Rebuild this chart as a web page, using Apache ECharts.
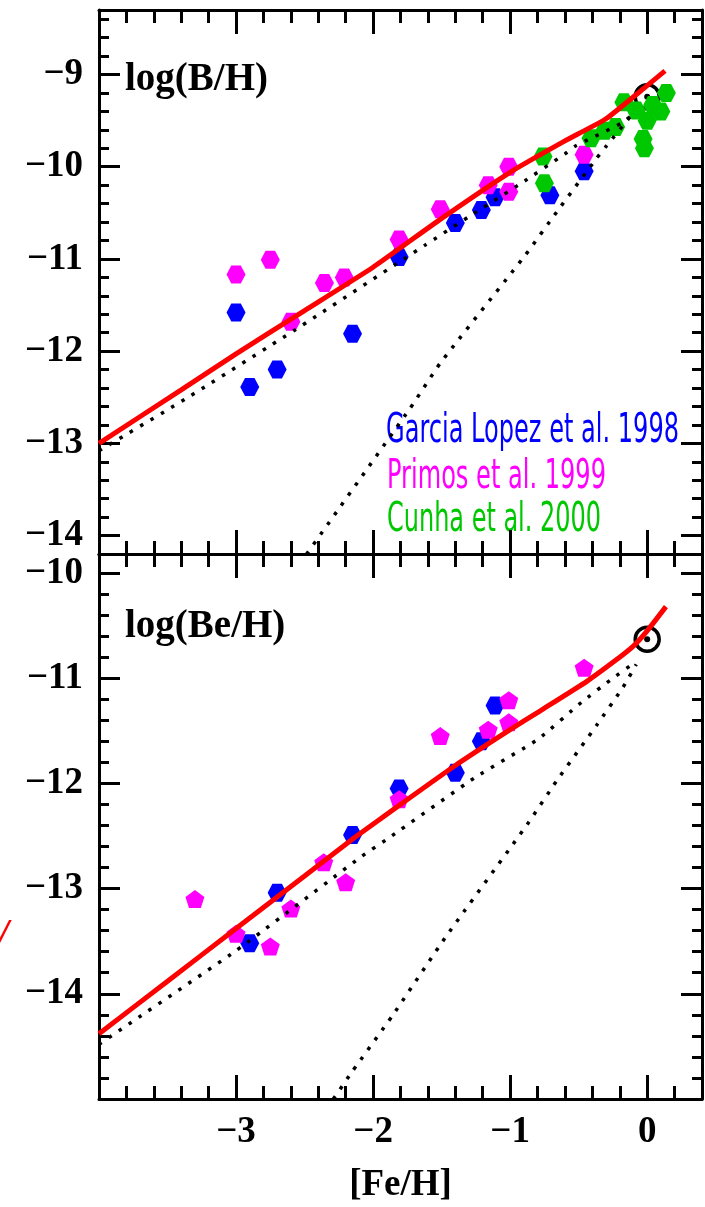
<!DOCTYPE html>
<html>
<head>
<meta charset="utf-8">
<script src="https://cdn.jsdelivr.net/npm/echarts@6/dist/echarts.min.js"></script>
<style>
  html, body { margin: 0; padding: 0; background: #fff; }
  #chart { width: 705px; height: 1207px; }
</style>
</head>
<body>
<div id="chart"></div>
<script>
// ---------- axis ranges and ticks ----------
const feRange = [-4, 0.4];
const bRange = [-14.2, -8.3];
const beRange = [-15, -9.82];
const feMajorTicks = [-4, -3, -2, -1, 0];
const feTickLabels = [-3, -2, -1, 0];
const bMajorTicks = [-14, -13, -12, -11, -10, -9];
const beMajorTicks = [-15, -14, -13, -12, -11, -10];
const beTickLabels = [-14, -13, -12, -11, -10];

// ---------- boron, log(B/H) vs [Fe/H] ----------
const garciaB = [
  [-3.00, -11.58], [-2.90, -12.39], [-2.70, -12.20], [-2.15, -11.81], [-1.81, -10.98],
  [-1.40, -10.61], [-1.21, -10.47], [-1.11, -10.33], [-0.71, -10.31], [-0.46, -10.05]
];
const primasB = [
  [-3.00, -11.17], [-2.75, -11.01], [-2.60, -11.68], [-2.355, -11.26], [-2.21, -11.20],
  [-1.81, -10.79], [-1.51, -10.46], [-1.16, -10.20], [-1.01, -10.00], [-1.01, -10.27],
  [-0.46, -9.87]
];
const cunhaB = [
  [-0.76, -9.89], [-0.75, -10.18], [-0.41, -9.69], [-0.31, -9.61], [-0.23, -9.57],
  [-0.17, -9.30], [-0.08, -9.39], [0.00, -9.50], [0.04, -9.33], [0.10, -9.40],
  [0.14, -9.20], [-0.03, -9.70], [-0.02, -9.80]
];
const modelB = [
  [-4.0, -13.0], [-3.4, -12.42], [-3.0, -12.03], [-2.5, -11.56], [-2.0, -11.09],
  [-1.5, -10.56], [-1.0, -10.06], [-0.6, -9.72], [-0.3, -9.48], [0.0, -9.12], [0.13, -8.96]
];
const dottedB1 = [
  [-4.0, -13.08], [-3.36, -12.51], [-2.57, -11.77], [-1.62, -10.85], [-1.3, -10.54],
  [-0.92, -10.18], [-0.6, -9.86], [-0.53, -9.78], [-0.19, -9.53], [-0.1, -9.43]
];
const dottedB2 = [
  [-2.485, -14.2], [-1.73, -12.62], [-1.51, -12.13], [-0.89, -10.96], [-0.66, -10.49],
  [-0.37, -9.91], [-0.3, -9.78], [-0.12, -9.45]
];
const sunB = [[0.0, -9.24]];

// ---------- beryllium, log(Be/H) vs [Fe/H] ----------
const garciaBe = [
  [-2.90, -13.52], [-2.70, -13.04], [-2.15, -12.49], [-1.81, -12.05], [-1.40, -11.90],
  [-1.21, -11.60], [-1.11, -11.26]
];
const primasBe = [
  [-3.30, -13.10], [-3.00, -13.43], [-2.75, -13.55], [-2.60, -13.19], [-2.36, -12.75],
  [-2.20, -12.94], [-1.81, -12.15], [-1.51, -11.55], [-1.16, -11.49], [-1.01, -11.21],
  [-1.01, -11.42], [-0.46, -10.90]
];
const modelBe = [
  [-4.0, -14.38], [-3.5, -13.88], [-3.0, -13.38], [-2.5, -12.88], [-2.13, -12.51],
  [-1.8, -12.20], [-1.4, -11.83], [-1.0, -11.49], [-0.78, -11.31], [-0.44, -11.03],
  [-0.25, -10.85], [-0.105, -10.70], [0.0, -10.55], [0.137, -10.32]
];
const dottedBe1 = [
  [-4.0, -14.48], [-3.0, -13.59], [-2.09, -12.70], [-1.875, -12.51], [-1.257, -11.945],
  [-0.796, -11.58], [-0.48, -11.23], [-0.25, -11.0], [-0.1, -10.86]
];
const dottedBe2 = [
  [-2.29, -15.0], [-2.153, -14.74], [-1.86, -14.21], [-1.465, -13.45], [-0.875, -12.39],
  [-0.663, -11.98], [-0.37, -11.45], [-0.178, -11.09], [-0.08, -10.87]
];
const sunBe = [[0.0, -10.63]];

// ---------- styling ----------
const FONT_SERIF = '"Liberation Serif", "DejaVu Serif", serif';
const FONT_KEY = '"DejaVu Sans", "Liberation Sans", sans-serif';
const BLUE = '#0000ff', MAGENTA = '#ff00ff', GREEN = '#00c800';
const HEX = 'path://M2,0 L1,1.732 L-1,1.732 L-2,0 L-1,-1.732 L1,-1.732 Z';
const PENT = 'path://M0,-10 L9.5,-3.1 L5.9,8.1 L-5.9,8.1 L-9.5,-3.1 Z';

const minusFmt = v => (v < 0 ? '\u2212' + Math.abs(v) : String(v));
const labelText = { color: '#000', fontFamily: FONT_SERIF, fontWeight: 'bold', fontSize: 37 };

function xAx(grid, pos, labelled) {
  return {
    type: 'value', gridIndex: grid, position: pos,
    min: feRange[0], max: feRange[1],
    axisLine: { show: true, onZero: false, lineStyle: { color: '#000', width: 3 } },
    axisTick: { show: true, inside: true, length: 24, customValues: feMajorTicks,
                lineStyle: { color: '#000', width: 3 } },
    minorTick: { show: true, splitNumber: 5, length: 13, lineStyle: { color: '#000', width: 3 } },
    splitLine: { show: false }, minorSplitLine: { show: false },
    axisLabel: labelled
      ? Object.assign({ show: true, customValues: feTickLabels, formatter: minusFmt, margin: 15 }, labelText)
      : { show: false },
    name: labelled ? '[Fe/H]' : '',
    nameLocation: 'middle', nameGap: 68,
    nameTextStyle: labelText
  };
}

function yAx(grid, pos, range, majors, labels) {
  return {
    type: 'value', gridIndex: grid, position: pos,
    min: range[0], max: range[1],
    axisLine: { show: true, onZero: false, lineStyle: { color: '#000', width: 3 } },
    axisTick: { show: true, inside: true, length: 21, customValues: majors,
                lineStyle: { color: '#000', width: 3 } },
    minorTick: { show: true, splitNumber: 5, length: 10, lineStyle: { color: '#000', width: 3 } },
    splitLine: { show: false }, minorSplitLine: { show: false },
    axisLabel: labels
      ? Object.assign({ show: true, customValues: labels, formatter: minusFmt, margin: 16 }, labelText)
      : { show: false }
  };
}

function points(data, color, symbol, grid) {
  return {
    type: 'scatter', data, xAxisIndex: grid * 2, yAxisIndex: grid * 2,
    symbol, symbolSize: [19, 18], itemStyle: { color, opacity: 1 }, z: 3, silent: true
  };
}
function curve(data, grid, dotted) {
  return {
    type: 'line', data, xAxisIndex: grid * 2, yAxisIndex: grid * 2,
    showSymbol: false, symbol: 'none', smooth: 0.15, clip: true, silent: true,
    lineStyle: dotted
      ? { color: '#000', width: 3.5, type: [3.5, 8.5], cap: 'butt' }
      : { color: '#ff0000', width: 5 },
    z: dotted ? 4 : 5
  };
}
function sun(data, grid) {
  return [
    { type: 'scatter', data, xAxisIndex: grid * 2, yAxisIndex: grid * 2, symbol: 'circle',
      symbolSize: 24, z: 2, silent: true,
      itemStyle: { color: 'rgba(0,0,0,0)', borderColor: '#000', borderWidth: 3.5, opacity: 1 } },
    { type: 'scatter', data, xAxisIndex: grid * 2, yAxisIndex: grid * 2, symbol: 'circle',
      symbolSize: 6, z: 2, silent: true, itemStyle: { color: '#000', opacity: 1 } }
  ];
}

// condensed key text: squeeze each line to its drawn width
const measureCtx = document.createElement('canvas').getContext('2d');
function squeeze(text, font, width) {
  measureCtx.font = font;
  return width / measureCtx.measureText(text).width;
}
function keyLine(text, color, x, y, width) {
  const font = '40px ' + FONT_KEY;
  return {
    type: 'text', x, y, scaleX: squeeze(text, font, width), silent: true,
    style: { text, fill: color, font, align: 'left', verticalAlign: 'middle',
             textAlign: 'left', textVerticalAlign: 'middle' }
  };
}
function panelTitle(text, x, y) {
  const font = 'bold 39px ' + FONT_SERIF;
  return {
    type: 'text', x, y, silent: true,
    style: { text, fill: '#000', font, align: 'left', verticalAlign: 'middle',
             textAlign: 'left', textVerticalAlign: 'middle' }
  };
}

const chart = echarts.init(document.getElementById('chart'), null, { renderer: 'canvas' });
chart.setOption({
  animation: false,
  backgroundColor: '#fff',
  grid: [
    { left: 99, top: 10, width: 603, height: 544 },
    { left: 99, top: 554, width: 603, height: 545 }
  ],
  xAxis: [xAx(0, 'bottom', false), xAx(0, 'top', false), xAx(1, 'bottom', true), xAx(1, 'top', false)],
  yAxis: [
    yAx(0, 'left', bRange, bMajorTicks, bMajorTicks), yAx(0, 'right', bRange, bMajorTicks, null),
    yAx(1, 'left', beRange, beMajorTicks, beTickLabels), yAx(1, 'right', beRange, beMajorTicks, null)
  ],
  series: [
    ...sun(sunB, 0),
    points(garciaB, BLUE, HEX, 0),
    points(primasB, MAGENTA, HEX, 0),
    points(cunhaB, GREEN, HEX, 0),
    curve(dottedB1, 0, true),
    curve(dottedB2, 0, true),
    curve(modelB, 0, false),
    ...sun(sunBe, 1),
    points(garciaBe, BLUE, HEX, 1),
    points(primasBe, MAGENTA, PENT, 1),
    curve(dottedBe1, 1, true),
    curve(dottedBe2, 1, true),
    curve(modelBe, 1, false)
  ],
  graphic: [
    panelTitle('log(B/H)', 125, 80),
    panelTitle('log(Be/H)', 125, 627),
    keyLine('Garcia Lopez et al. 1998', BLUE, 386, 432, 293),
    keyLine('Primos et al. 1999', MAGENTA, 387, 478, 219),
    keyLine('Cunha et al. 2000', GREEN, 387, 521, 214),
    { type: 'text', x: -6, y: 940, silent: true,
      style: { text: '/', fill: '#ff0000', font: 'italic 50px ' + FONT_SERIF,
               align: 'left', verticalAlign: 'middle', textAlign: 'left', textVerticalAlign: 'middle' } }
  ]
});
</script>
</body>
</html>
